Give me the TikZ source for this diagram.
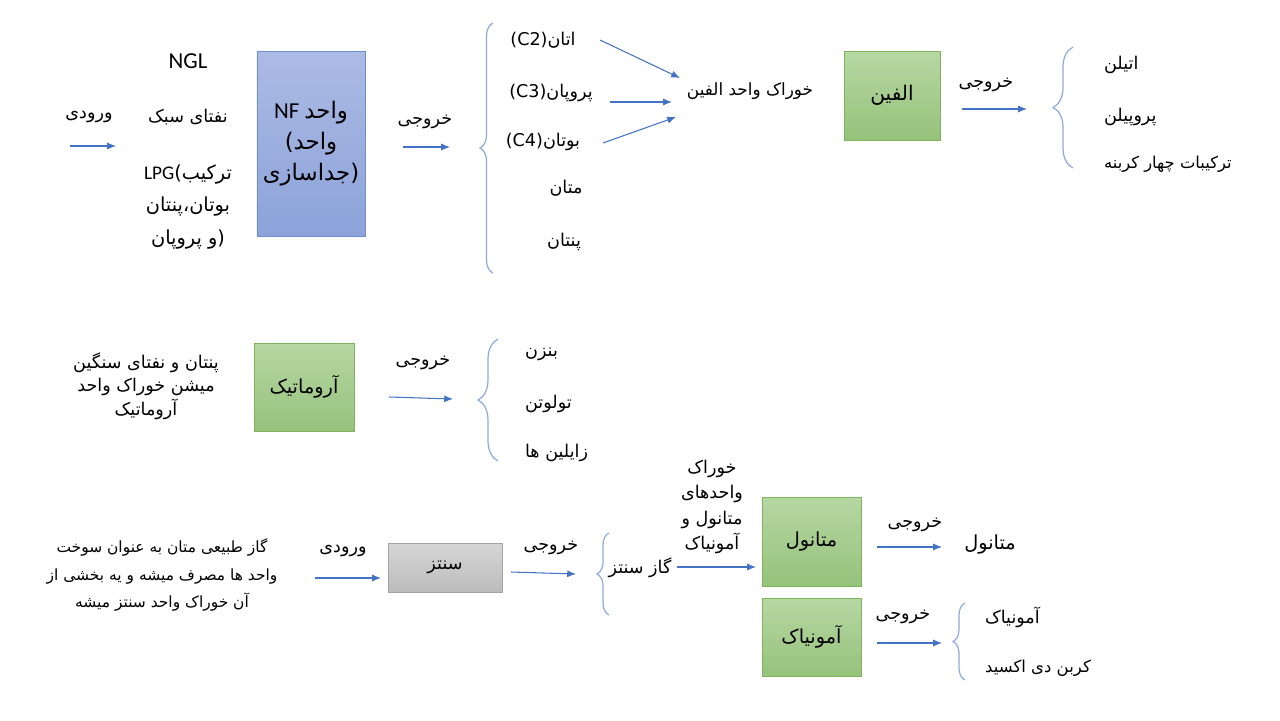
\documentclass[tikz,border=0pt]{standalone}
\usepackage{fontspec}
\setmainfont{Carlito}
\newfontfamily\farsi[Script=Arabic]{DejaVu Sans}
\TeXXeTstate=1
\usetikzlibrary{arrows.meta,decorations.pathreplacing}
\definecolor{flowblue}{HTML}{4472C4}
\definecolor{bracecol}{HTML}{8FAADC}
\definecolor{greentop}{HTML}{B6D7A3}
\definecolor{greenbot}{HTML}{96C27B}
\definecolor{greenline}{HTML}{7FB45C}
\definecolor{bluetop}{HTML}{ACBBE4}
\definecolor{bluebot}{HTML}{8CA2D9}
\definecolor{blueline}{HTML}{6E8FCB}
\definecolor{graytop}{HTML}{D6D6D6}
\definecolor{graybot}{HTML}{BCBCBC}
\definecolor{grayline}{HTML}{A5A5A5}
\newcommand{\fa}[1]{{\farsi\beginR #1\endR}}

\tikzset{
  lbl/.style={inner sep=1pt, font=\fontsize{10}{12}\selectfont},
  biglbl/.style={inner sep=1pt, align=center, font=\fontsize{11}{15}\selectfont},
  flow/.style={draw=flowblue, line width=0.6pt, -{Latex[length=5pt,width=4pt]}},
  grp/.style={draw=bracecol, line width=0.7pt, decorate, decoration={brace, amplitude=#1}},
  greenbox/.style={draw=greenline, top color=greentop, bottom color=greenbot,
    font=\fontsize{11}{13}\selectfont},
  bluebox/.style={draw=blueline, top color=bluetop, bottom color=bluebot,
    align=center, font=\fontsize{13}{17.5}\selectfont},
  graybox/.style={draw=grayline, top color=graytop, bottom color=graybot,
    font=\fontsize{10}{12}\selectfont},
}

\begin{document}
\begin{tikzpicture}[x=0.02cm, y=-0.02cm]
\useasboundingbox (0,0) rectangle (1280,720);

% --- NGL / NF unit
\node (ngl) at (188, 61) [biglbl, font=\fontsize{13}{15}\selectfont] {NGL};
\node (in1) at (89, 117) [lbl] {\fa{ورودی}};
\node (light) at (188, 117) [lbl] {\fa{نفتای سبک}};
\node (lpg) at (188, 207) [biglbl, font=\fontsize{11}{18.5}\selectfont]
  {LPG\fa{ترکیب)}\\ \fa{بوتان،پنتان}\\ \fa{(و پروپان}};
\node (nf) at (311, 143.5) [bluebox, minimum width=2.12cm, minimum height=3.7cm]
  {NF \fa{واحد}\\ \fa{واحد)}\\ \fa{(جداسازی}};
\node (out1) at (425, 122) [lbl] {\fa{خروجی}};
\coordinate (in1s) at (70, 146);
\coordinate (in1e) at (116, 146);
\coordinate (out1s) at (403, 147);
\coordinate (out1e) at (450, 147);
\draw[flow] (in1s) -- (in1e);
\draw[flow] (out1s) -- (out1e);

\draw[grp=0.26cm] (493, 273) -- (493, 23);
\node (c2) at (543, 40) [lbl] {\fa{اتان(C2)}};
\node (c3) at (551, 93) [lbl] {\fa{پروپان(C3)}};
\node (c4) at (543, 142) [lbl] {\fa{بوتان(C4)}};
\node (c1) at (566, 188) [lbl] {\fa{متان}};
\node (c5) at (564, 242) [lbl] {\fa{پنتان}};

\node (feed) at (750, 91) [lbl, font=\fontsize{9.6}{12}\selectfont] {\fa{خوراک واحد الفین}};
\coordinate (c2s) at (600, 40);
\coordinate (c2e) at (680, 78);
\coordinate (c3s) at (610, 102);
\coordinate (c3e) at (672, 102);
\coordinate (c4s) at (603, 143);
\coordinate (c4e) at (676, 117);
\draw[flow] (c2s) -- (c2e);
\draw[flow] (c3s) -- (c3e);
\draw[flow] (c4s) -- (c4e);

% --- olefin unit
\node (olefin) at (892, 95.5) [greenbox, font=\fontsize{11.5}{13}\selectfont,
  minimum width=1.92cm, minimum height=1.78cm] {\fa{الفین}};
\node (out2) at (986, 85) [lbl] {\fa{خروجی}};
\coordinate (out2s) at (962, 109);
\coordinate (out2e) at (1027, 109);
\draw[flow] (out2s) -- (out2e);
\draw[grp=0.4cm] (1073, 168) -- (1073, 47);
\node (eth) at (1102, 65) [lbl, anchor=west] {\fa{اتیلن}};
\node (prop) at (1102, 117) [lbl, anchor=west] {\fa{پروپیلن}};
\node (c4mix) at (1102, 164) [lbl, anchor=west, font=\fontsize{9.3}{12}\selectfont] {\fa{ترکیبات چهار کربنه}};

% --- aromatic unit
\node (aromfeed) at (146, 386) [biglbl, font=\fontsize{10}{13.5}\selectfont]
  {\fa{پنتان و نفتای سنگین}\\ \fa{میشن خوراک واحد}\\ \fa{آروماتیک}};
\node (arom) at (304, 387) [greenbox, minimum width=2cm, minimum height=1.76cm] {\fa{آروماتیک}};
\node (out3) at (423, 363) [lbl] {\fa{خروجی}};
\coordinate (out3s) at (389, 397);
\coordinate (out3e) at (453, 399);
\draw[flow] (out3s) -- (out3e);
\draw[grp=0.4cm] (498, 461) -- (498, 339);
\node (benz) at (523, 354) [lbl, anchor=west] {\fa{بنزن}};
\node (tol) at (523, 404) [lbl, anchor=west] {\fa{تولوتن}};
\node (xyl) at (523, 453) [lbl, anchor=west] {\fa{زایلین ها}};

% --- syngas, methanol and ammonia
\node (gas) at (162, 575) [biglbl, font=\fontsize{8.8}{15.5}\selectfont]
  {\fa{گاز طبیعی متان به عنوان سوخت}\\ \fa{واحد ها مصرف میشه و یه بخشی از}\\ \fa{آن خوراک واحد سنتز میشه}};
\node (in4) at (343, 551) [lbl] {\fa{ورودی}};
\coordinate (in4s) at (315, 578);
\coordinate (in4e) at (381, 578);
\draw[flow] (in4s) -- (in4e);
\node (syn) at (445, 567.5) [graybox, minimum width=2.28cm, minimum height=0.98cm] {\fa{سنتز}};
\node (out4) at (551, 548) [lbl] {\fa{خروجی}};
\coordinate (out4s) at (511, 572);
\coordinate (out4e) at (576, 574);
\draw[flow] (out4s) -- (out4e);
\draw[grp=0.24cm] (609, 615) -- (609, 533);
\node (sgas) at (640, 568) [lbl] {\fa{گاز سنتز}};
\node (feed2) at (712, 507) [biglbl, font=\fontsize{10}{14.5}\selectfont]
  {\fa{خوراک}\\ \fa{واحدهای}\\ \fa{متانول و}\\ \fa{آمونیاک}};
\coordinate (sgass) at (677, 567);
\coordinate (sgase) at (756, 567);
\draw[flow] (sgass) -- (sgase);

\node (meth) at (811.5, 541.5) [greenbox, minimum width=1.98cm, minimum height=1.78cm] {\fa{متانول}};
\node (amm) at (811.5, 637) [greenbox, minimum width=1.98cm, minimum height=1.56cm] {\fa{آمونیاک}};
\node (out5) at (915, 525) [lbl] {\fa{خروجی}};
\coordinate (out5s) at (877, 547);
\coordinate (out5e) at (942, 547);
\draw[flow] (out5s) -- (out5e);
\node (methout) at (990, 545) [lbl, font=\fontsize{11}{13}\selectfont] {\fa{متانول}};
\node (out6) at (903, 617) [lbl] {\fa{خروجی}};
\coordinate (out6s) at (877, 643);
\coordinate (out6e) at (942, 643);
\draw[flow] (out6s) -- (out6e);
\draw[grp=0.24cm] (965, 680) -- (965, 603);
\node (ammout) at (983, 617) [lbl, anchor=west] {\fa{آمونیاک}};
\node (co2) at (983, 668) [lbl, anchor=west, font=\fontsize{9.4}{12}\selectfont] {\fa{کربن دی اکسید}};
\end{tikzpicture}
\end{document}
